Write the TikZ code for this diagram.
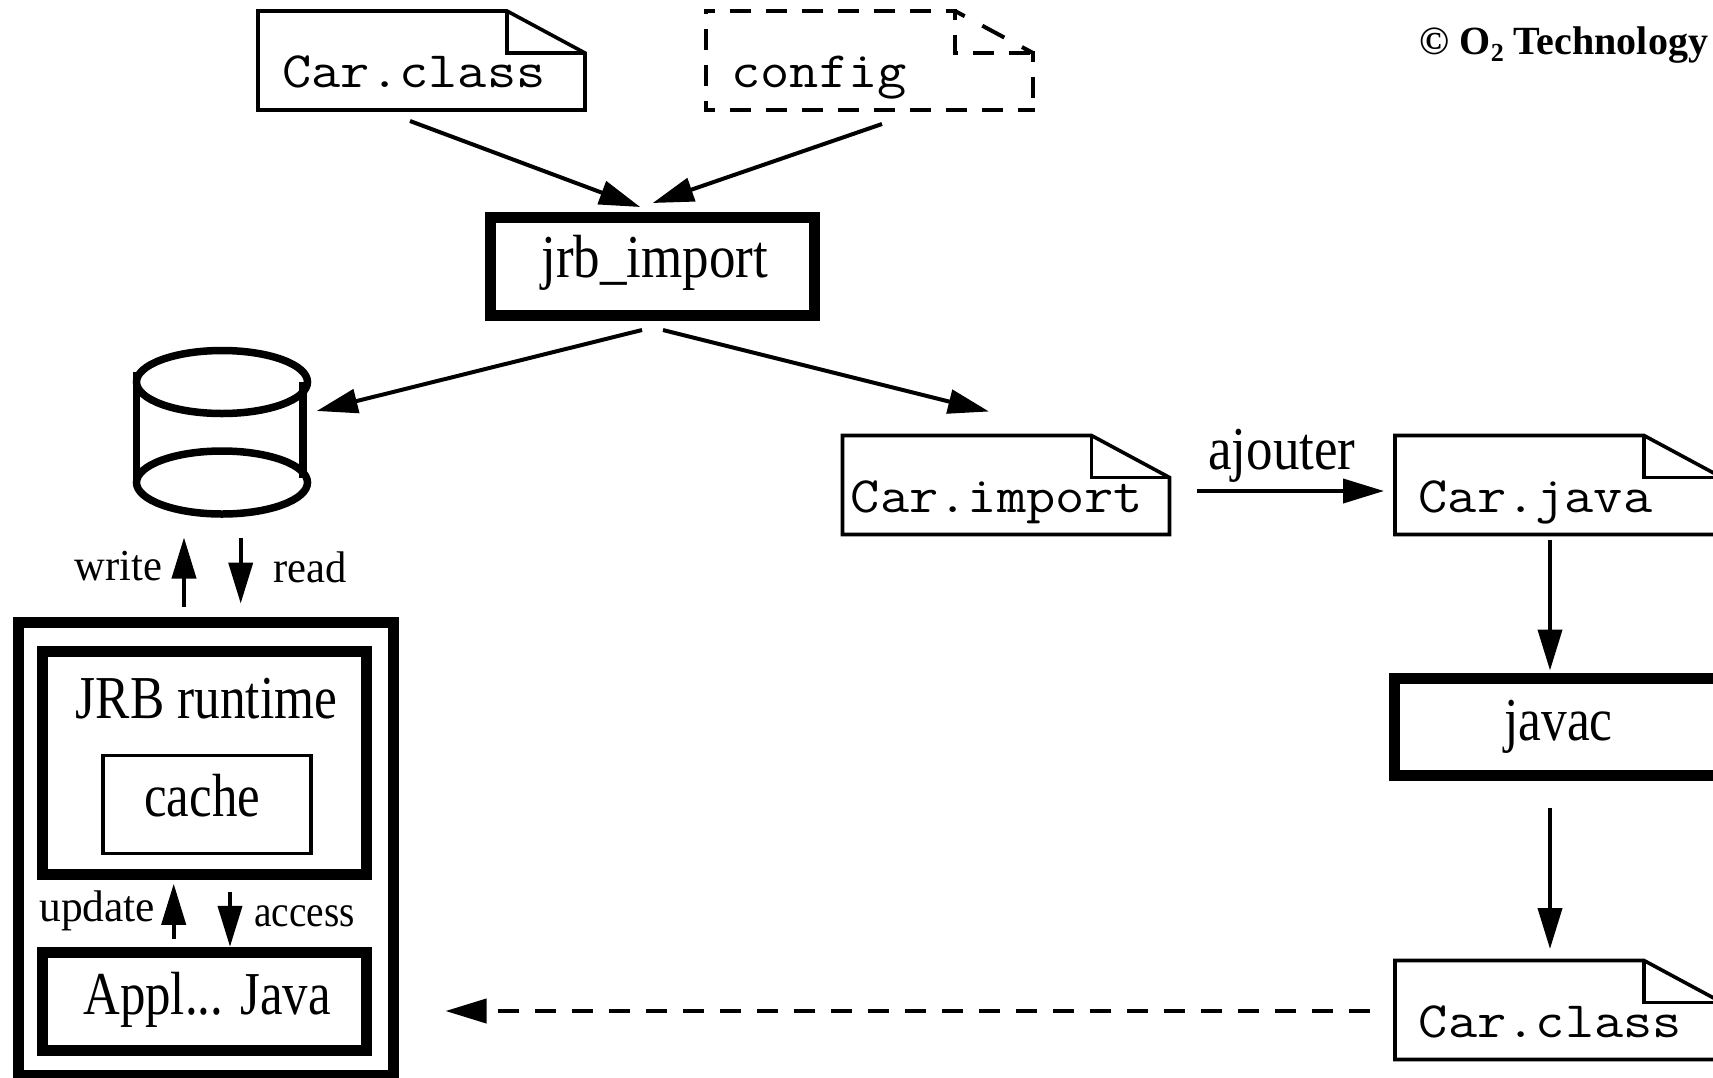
\documentclass[tikz,border=0pt]{standalone}
\usepackage{fontspec}
\usepackage{graphicx}
\setmainfont{Liberation Serif}
\usetikzlibrary{arrows.meta}
% text placed in a node: dx, dy (baseline relative to node centre), text
\newcommand\boxtext[3]{\makebox[0pt][c]{\hspace*{#1}\raisebox{#2}{#3}}}
\newcommand\bigtext[2][1]{\scalebox{#1}[1.15]{\fontsize{53}{60}\selectfont #2}}
\newcommand\smalltext[2][1]{\scalebox{#1}[1.08]{\fontsize{41}{48}\selectfont #2}}
\newcommand\monotext[1]{\scalebox{1.113}[1]{\fontsize{51}{58}\selectfont\ttfamily #1}}
\tikzset{
  bx/.style={draw=black,fill=white,rectangle,inner sep=0pt,outer sep=0pt,text height=0pt,text depth=0pt,line join=miter},
  heavy/.style={bx,line width=11pt},
  thin box/.style={bx,line width=3.6pt},
  filebase/.style={rectangle,inner sep=0pt,outer sep=0pt,text height=0pt,text depth=0pt,minimum width=327pt,minimum height=99pt},
  docline/.style={line width=3.6pt,line join=miter},
  dashdoc/.style={line width=4pt,line cap=rect,dash pattern=on 17pt off 19pt,dash phase=10pt},
  dashfold/.style={line width=4pt,dash pattern=on 25pt off 20pt,dash phase=14pt},
  arr/.style={line width=4pt,-{Triangle[length=41pt,width=24pt]}},
  arrd/.style={arr,dash pattern=on 21pt off 16pt},
  lab/.style={inner sep=0pt,outer sep=0pt,anchor=base},
  cyl/.style={line width=7.5pt},
}
\newcommand\docdraw[1]{%
  \draw[docline] ([shift={(-78,0)}]#1.north east) -- ([shift={(0,42)}]#1.north east) -- (#1.south east) -- (#1.south west) -- (#1.north west) -- cycle;
  \draw[docline] ([shift={(-78,0)}]#1.north east) -- ([shift={(-78,42)}]#1.north east) -- ([shift={(0,42)}]#1.north east);
}
\begin{document}
\begin{tikzpicture}[x=1pt,y=-1pt]
\useasboundingbox (0,0) rectangle (1713,1077);
\clip (0,0) rectangle (1713,1077);

% files
\node[filebase] (fclass) at (421.5,60.5) {\boxtext{-15pt}{-27pt}{\monotext{Car.class}}};
\node[filebase] (fconfig) at (869.5,60.5) {\boxtext{-101pt}{-27pt}{\monotext{config}}};
\node[filebase] (fimport) at (1006,485) {\boxtext{-18pt}{-27pt}{\monotext{Car.import}}};
\node[filebase] (fjava) at (1558.5,485) {\boxtext{-46pt}{-27pt}{\monotext{Car.java}}};
\node[filebase] (fclassb) at (1558.5,1010) {\boxtext{-16pt}{-27pt}{\monotext{Car.class}}};
\docdraw{fclass}
\docdraw{fimport}
\docdraw{fjava}
\docdraw{fclassb}
% dashed file
\draw[dashfold] ([shift={(-78,0)}]fconfig.north east) -- ([shift={(0,42)}]fconfig.north east);
\draw[dashdoc] ([shift={(0,42)}]fconfig.north east) -- (fconfig.south east);
\draw[dashdoc] (fconfig.south west) -- (fconfig.south east);
\draw[dashdoc] (fconfig.south west) -- (fconfig.north west);
\draw[dashdoc] (fconfig.north west) -- ([shift={(-78,0)}]fconfig.north east);
\draw[dashdoc] ([shift={(-78,0)}]fconfig.north east) -- ([shift={(-78,42)}]fconfig.north east) -- ([shift={(0,42)}]fconfig.north east);

% process boxes
\node[heavy,minimum width=323.5pt,minimum height=98pt] (jrb) at (652.7,266) {\boxtext{4pt}{-11pt}{\bigtext{jrb\_import}}};
\node[heavy,minimum width=325pt,minimum height=97pt] (javac) at (1556.5,727) {\boxtext{4pt}{-13pt}{\bigtext[0.97]{javac}}};

% database
\coordinate (dbt) at (222,382);
\coordinate (dbb) at (222,482.5);
\draw[cyl] (dbb) ellipse [x radius=85.5pt,y radius=31.5pt];
\draw[cyl] (dbt) ellipse [x radius=85.5pt,y radius=31.5pt];
\draw[cyl] ([shift={(-85.5,-10)}]dbt) -- ([shift={(-85.5,0)}]dbb);
\draw[cyl] ([shift={(81,0)}]dbt) -- ([shift={(81,-5)}]dbb);

% runtime group
\node[heavy,minimum width=375pt,minimum height=453pt] (outer) at (206,848.5) {};
\node[heavy,minimum width=324pt,minimum height=223.5pt] (runtime) at (204.5,763) {\boxtext{4pt}{45pt}{\bigtext[0.97]{JRB runtime}}};
\node[thin box,minimum width=208pt,minimum height=98pt] (cache) at (207.2,804.5) {\boxtext{-10pt}{-12pt}{\bigtext[0.96]{cache}}};
\node[heavy,minimum width=324pt,minimum height=98pt] (appl) at (204.5,1001.8) {\boxtext{5pt}{-13pt}{\bigtext[0.96]{Appl... Java}}};

% connectors
\draw[arr] ([shift={(-11.5,11)}]fclass.south) -- ([shift={(-12.5,-10)}]jrb.north);
\draw[arr] ([shift={(12.5,14)}]fconfig.south) -- ([shift={(0,-14)}]jrb.north);
\draw[arr] ([shift={(-10.7,15)}]jrb.south) -- ([shift={(94.7,-71.5)}]dbb);
\draw[arr] ([shift={(10.3,15)}]jrb.south) -- ([shift={(-17,-24)}]fimport.north);
\draw[arr] ([shift={(27,6)}]fimport.east) -- ([shift={(-11,6)}]fjava.west);
\draw[arr] ([shift={(-8.5,5)}]fjava.south) -- ([shift={(-6.5,-8)}]javac.north);
\draw[arr] ([shift={(-6.5,32)}]javac.south) -- ([shift={(-8.5,-11.5)}]fclassb.north);
\draw[arrd] ([shift={(-25,1)}]fclassb.west) -- ([shift={(52,1)}]outer.east |- fclassb.west);
\draw[arr] ([shift={(-22,-15)}]outer.north) -- ([shift={(-38,55)}]dbb);
\draw[arr] ([shift={(18.7,55.5)}]dbb) -- ([shift={(34.7,-18.5)}]outer.north);
\draw[arr] ([shift={(-30.8,-14)}]appl.north) -- ([shift={(-30.8,9)}]runtime.south);
\draw[arr] ([shift={(25.5,17)}]runtime.south) -- ([shift={(25.5,-6)}]appl.north);

% labels
\node[lab] (lajout) at (1282,469) {\bigtext{ajouter}};
\node[lab] (lwrite) at (118.5,580.6) {\smalltext[1.04]{write}};
\node[lab] (lread) at (310,582) {\smalltext[1.04]{read}};
\node[lab] (lupdate) at (97.2,921.5) {\smalltext[1.06]{update}};
\node[lab] (laccess) at (304.7,926.5) {\smalltext[0.96]{access}};
\node[lab,anchor=base east] (lcopy) at (1708,54) {\fontsize{40}{46}\selectfont\bfseries ©\ O\raisebox{-7pt}{\fontsize{26}{28}\selectfont 2} Technology};
\end{tikzpicture}
\end{document}
